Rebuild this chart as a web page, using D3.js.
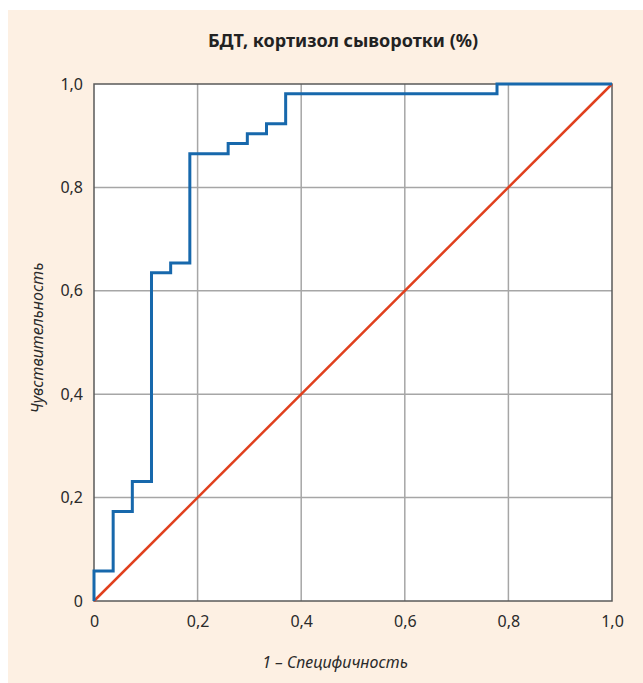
<!DOCTYPE html>
<html>
<head>
<meta charset="utf-8">
<script src="https://cdn.jsdelivr.net/npm/d3@7"></script>
<style>
  body { margin: 0; background: #ffffff; }
  svg { display: block; font-family: "Noto Sans", sans-serif; }
</style>
</head>
<body>
<svg id="chart" width="643" height="683"></svg>
<script>
// ROC curve: 1 - specificity (x) vs sensitivity (y)
const rocX = [0, 0, 0.037, 0.037, 0.074, 0.074, 0.111, 0.111, 0.148, 0.148, 0.185, 0.185,
              0.259, 0.259, 0.296, 0.296, 0.333, 0.333, 0.370, 0.370, 0.778, 0.778, 1.0];
const rocY = [0, 0.058, 0.058, 0.173, 0.173, 0.231, 0.231, 0.635, 0.635, 0.654, 0.654, 0.865,
              0.865, 0.885, 0.885, 0.904, 0.904, 0.923, 0.923, 0.981, 0.981, 1.0, 1.0];
const refLine = [0, 1];
const tickVals = [0, 0.2, 0.4, 0.6, 0.8, 1.0];
const tickLabels = ['0', '0,2', '0,4', '0,6', '0,8', '1,0'];

const title = 'БДТ, кортизол сыворотки (%)';
const xTitle = '1 – Специфичность';
const yTitle = 'Чувствительность';

const svg = d3.select('#chart');

// peach panel
svg.append('rect')
    .attr('x', 8).attr('y', 10)
    .attr('width', 635).attr('height', 673)
    .attr('fill', '#fdf0e3');

const margin = { left: 94, top: 84, right: 31, bottom: 82 };
const width = 643 - margin.left - margin.right;
const height = 683 - margin.top - margin.bottom;

const x = d3.scaleLinear().domain([0, 1]).range([0, width]);
const y = d3.scaleLinear().domain([0, 1]).range([height, 0]);

const chart = svg.append('g')
    .attr('transform', `translate(${margin.left},${margin.top})`);

// plot background
chart.append('rect')
    .attr('width', width).attr('height', height)
    .attr('fill', '#ffffff');

// grid lines
chart.selectAll('.vgrid')
    .data(tickVals.slice(1, -1))
    .join('line')
    .attr('class', 'vgrid')
    .attr('x1', d => x(d)).attr('x2', d => x(d))
    .attr('y1', 0).attr('y2', height)
    .attr('stroke', '#a6a6a6').attr('stroke-width', 1.5);

chart.selectAll('.hgrid')
    .data(tickVals.slice(1, -1))
    .join('line')
    .attr('class', 'hgrid')
    .attr('x1', 0).attr('x2', width)
    .attr('y1', d => y(d)).attr('y2', d => y(d))
    .attr('stroke', '#a6a6a6').attr('stroke-width', 1.5);

// frame
chart.append('rect')
    .attr('width', width).attr('height', height)
    .attr('fill', 'none')
    .attr('stroke', '#5a5a5a').attr('stroke-width', 1.5);

// axes (labels only)
const xAxis = chart.append('g')
    .attr('transform', `translate(0,${height})`)
    .call(d3.axisBottom(x).tickValues(tickVals).tickSize(0).tickPadding(15)
        .tickFormat((d, i) => tickLabels[i]));
const yAxis = chart.append('g')
    .call(d3.axisLeft(y).tickValues(tickVals).tickSize(0).tickPadding(11)
        .tickFormat((d, i) => tickLabels[i]));
[xAxis, yAxis].forEach(a => {
    a.select('.domain').remove();
    a.selectAll('text')
        .attr('font-family', '"Noto Sans", sans-serif')
        .attr('font-size', 16)
        .attr('fill', '#2a2a2a');
});

// reference diagonal
chart.append('path')
    .datum(refLine)
    .attr('d', d3.line().x(d => x(d)).y(d => y(d)))
    .attr('fill', 'none')
    .attr('stroke', '#e0401e').attr('stroke-width', 2.5);

// ROC curve
chart.append('path')
    .datum(rocX.map((v, i) => [v, rocY[i]]))
    .attr('d', d3.line().x(d => x(d[0])).y(d => y(d[1])))
    .attr('fill', 'none')
    .attr('stroke', '#1768ac').attr('stroke-width', 3)
    .attr('stroke-linejoin', 'miter');

// title
svg.append('text')
    .attr('x', 343).attr('y', 47)
    .attr('text-anchor', 'middle')
    .attr('font-size', 18).attr('font-weight', 'bold')
    .attr('fill', '#222')
    .text(title);

// axis titles
svg.append('text')
    .attr('x', 335).attr('y', 668)
    .attr('text-anchor', 'middle')
    .attr('font-size', 16).attr('font-style', 'italic')
    .attr('fill', '#2a2a2a')
    .text(xTitle);

svg.append('text')
    .attr('transform', 'translate(43,338) rotate(-90)')
    .attr('text-anchor', 'middle')
    .attr('font-size', 16).attr('font-style', 'italic')
    .attr('fill', '#2a2a2a')
    .text(yTitle);
</script>
</body>
</html>
